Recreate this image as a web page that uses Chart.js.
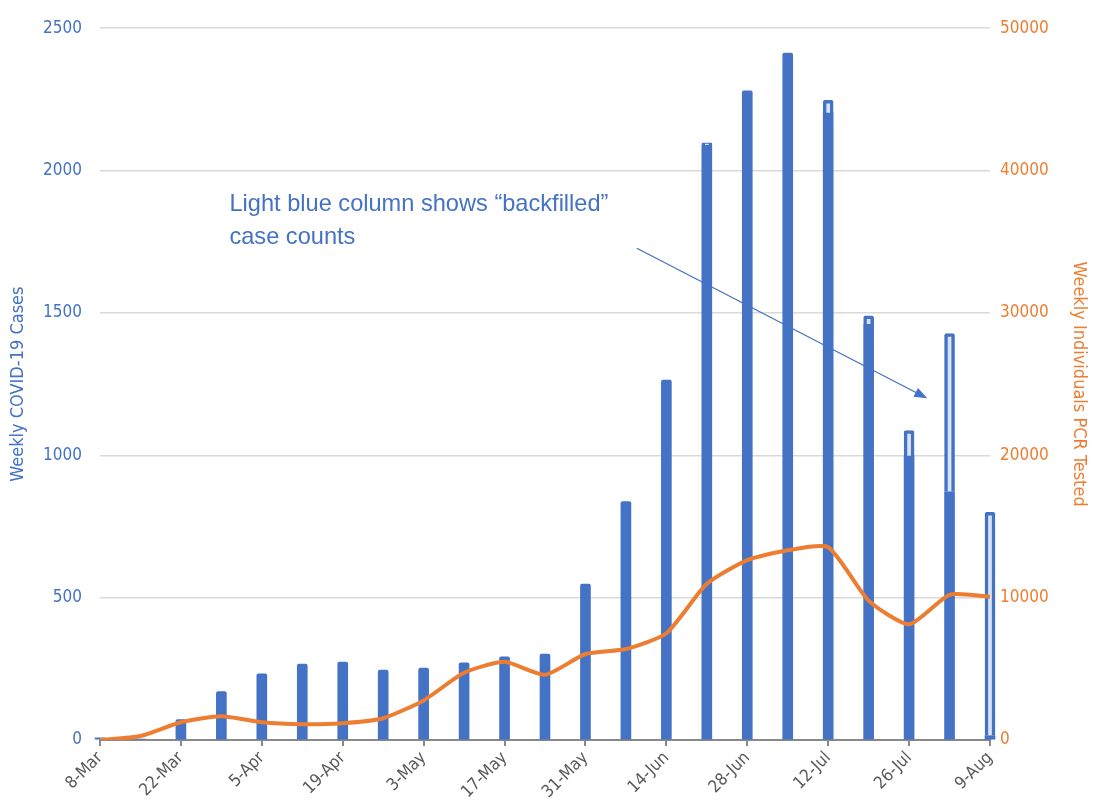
<!DOCTYPE html>
<html>
<head>
<meta charset="utf-8">
<script src="https://cdn.jsdelivr.net/npm/chart.js"></script>
<style>
  html, body { margin: 0; padding: 0; background: #fff; }
  #wrap { width: 1093px; height: 810px; }
</style>
</head>
<body>
<div id="wrap"><canvas id="myChart" width="1093" height="810"></canvas></div>
<script>
// weekly data, week starting dates
const weeks = ['8-Mar', '15-Mar', '22-Mar', '29-Mar', '5-Apr', '12-Apr', '19-Apr', '26-Apr',
  '3-May', '10-May', '17-May', '24-May', '31-May', '7-Jun', '14-Jun', '21-Jun', '28-Jun',
  '5-Jul', '12-Jul', '19-Jul', '26-Jul', '2-Aug', '9-Aug'];

// cases reported at the time
const reportedCases = [8, 3, 72, 170, 232, 267, 274, 246, 253, 271, 292, 302, 548, 837, 1264,
  2089, 2280, 2413, 2202, 1460, 997, 872, 15];

// cases added later ("backfilled")
const backfilledCases = [0, 0, 0, 0, 0, 0, 0, 0, 0, 0, 0, 0, 0, 0, 0,
  8, 0, 0, 45, 30, 90, 555, 785];

// weekly individuals PCR tested
const pcrTested = [0, 280, 1250, 1670, 1250, 1110, 1180, 1530, 2780, 4720, 5490, 4580, 6040,
  6390, 7500, 10970, 12640, 13330, 13540, 9790, 8130, 10200, 10070];

const leftTicks = [0, 500, 1000, 1500, 2000, 2500];
const rightTicks = [0, 10000, 20000, 30000, 40000, 50000];

const note = ['Light blue column shows \u201cbackfilled\u201d', 'case counts'];

const BLUE = '#4472C4';
const ORANGE = '#ED7D31';
const FONT = "'Liberation Sans Narrow', 'DejaVu Sans Condensed', 'Liberation Sans', sans-serif";

// note text and arrow, placed in data space
const notePlugin = {
  id: 'note',
  afterDatasetsDraw(chart) {
    const { ctx, scales } = chart;
    const x = scales.x, y = scales.y;
    ctx.save();
    ctx.fillStyle = BLUE;
    ctx.font = "23.6px 'Liberation Sans', sans-serif";
    ctx.textBaseline = 'middle';
    ctx.fillText(note[0], x.getPixelForValue(3.2), y.getPixelForValue(1882));
    ctx.fillText(note[1], x.getPixelForValue(3.2), y.getPixelForValue(1764));

    const x0 = x.getPixelForValue(13.27), y0 = y.getPixelForValue(1727);
    const x1 = x.getPixelForValue(20.45), y1 = y.getPixelForValue(1200);
    const ang = Math.atan2(y1 - y0, x1 - x0);
    ctx.strokeStyle = BLUE;
    ctx.lineWidth = 1.3;
    ctx.beginPath();
    ctx.moveTo(x0, y0);
    ctx.lineTo(x1 - 10 * Math.cos(ang), y1 - 10 * Math.sin(ang));
    ctx.stroke();
    ctx.beginPath();
    ctx.moveTo(x1, y1);
    ctx.lineTo(x1 - 13 * Math.cos(ang) + 5 * Math.sin(ang), y1 - 13 * Math.sin(ang) - 5 * Math.cos(ang));
    ctx.lineTo(x1 - 13 * Math.cos(ang) - 5 * Math.sin(ang), y1 - 13 * Math.sin(ang) + 5 * Math.cos(ang));
    ctx.closePath();
    ctx.fill();
    ctx.restore();
  }
};

const ctx = document.getElementById('myChart').getContext('2d');
new Chart(ctx, {
  type: 'bar',
  data: {
    labels: weeks,
    datasets: [
      {
        type: 'line',
        label: 'Weekly Individuals PCR Tested',
        data: pcrTested,
        yAxisID: 'y1',
        borderColor: ORANGE,
        borderWidth: 4,
        pointRadius: 0,
        tension: 0.2,
        order: 0,
      },
      {
        label: 'Weekly COVID-19 Cases',
        data: reportedCases,
        yAxisID: 'y',
        backgroundColor: BLUE,
        barThickness: 10,
        borderRadius: 2,
        clip: false,
        order: 1,
      },
      {
        label: 'Backfilled',
        data: backfilledCases,
        yAxisID: 'y',
        backgroundColor: '#DAE3F3',
        borderColor: BLUE,
        borderWidth: 3.5,
        barThickness: 10,
        borderRadius: 2,
        clip: false,
        order: 1,
      },
    ],
  },
  options: {
    responsive: false,
    animation: false,
    layout: { padding: { top: 12, left: 8, right: 4, bottom: 0 } },
    plugins: {
      legend: { display: false },
      tooltip: { enabled: false },
    },
    scales: {
      x: {
        stacked: true,
        offset: false,
        border: { color: '#898989', width: 2 },
        grid: {
          offset: false,
          drawOnChartArea: false,
          drawTicks: true,
          tickLength: 6,
          lineWidth: 2,
          color: (c) => (c.index % 2 === 0 ? '#898989' : 'rgba(0,0,0,0)'),
        },
        ticks: {
          autoSkip: false,
          maxRotation: 45,
          minRotation: 45,
          color: '#595959',
          font: { family: FONT, size: 17 },
          padding: 2,
          callback: function (v, i) { return i % 2 === 0 ? weeks[i] : ''; },
        },
        afterFit(scale) { scale.height = 70; },
      },
      y: {
        stacked: true,
        position: 'left',
        min: 0,
        max: 2500,
        afterBuildTicks(scale) { scale.ticks = leftTicks.map(v => ({ value: v })); },
        border: { display: false },
        grid: { color: '#D9D9D9', lineWidth: 1.5, drawTicks: false },
        ticks: { color: BLUE, font: { family: FONT, size: 17 }, padding: 18, callback: (v) => String(v) },
        title: { display: true, text: 'Weekly COVID-19 Cases', color: BLUE, font: { family: FONT, size: 18 }, padding: 0 },
        afterFit(scale) { scale.width = 92; },
      },
      y1: {
        position: 'right',
        min: 0,
        max: 50000,
        afterBuildTicks(scale) { scale.ticks = rightTicks.map(v => ({ value: v })); },
        border: { display: false },
        grid: { drawOnChartArea: false, drawTicks: false },
        ticks: { color: ORANGE, font: { family: FONT, size: 17 }, padding: 10, callback: (v) => String(v) },
        title: { display: true, text: 'Weekly Individuals PCR Tested', color: ORANGE, font: { family: FONT, size: 18 }, padding: 0 },
        afterFit(scale) { scale.width = 99; },
      },
    },
  },
  plugins: [notePlugin],
});
</script>
</body>
</html>
